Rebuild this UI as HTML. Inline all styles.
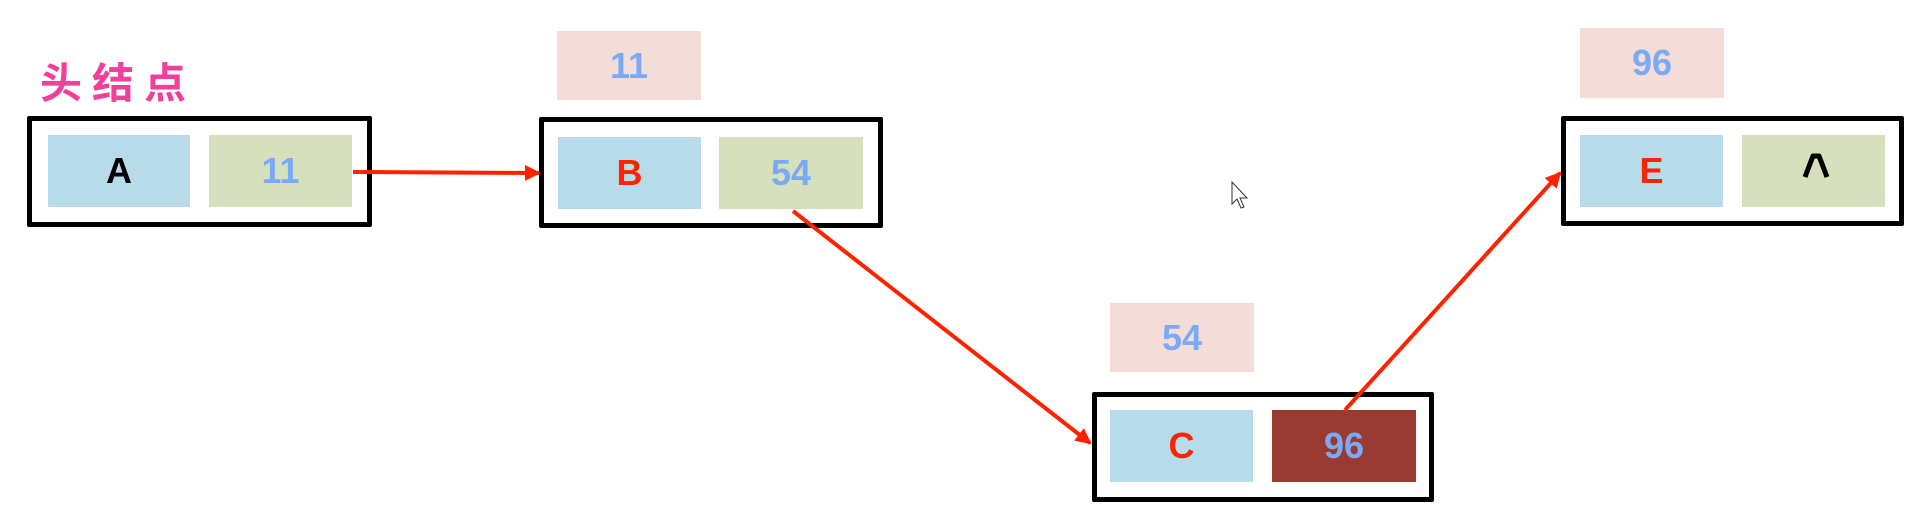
<!DOCTYPE html>
<html><head><meta charset="utf-8"><style>
html,body{margin:0;padding:0;background:#fff;width:1924px;height:517px;overflow:hidden;position:relative}
.box{position:absolute;border:5px solid #000;border-radius:2px;box-sizing:border-box;background:#fff}
.c{position:absolute;display:flex;align-items:center;justify-content:center;font-family:"Liberation Sans",sans-serif;font-weight:bold;font-size:36px}
.bl{background:#b7dbe8}.gr{background:#d6e0bd}.pk{background:#f4dcd8}.br{background:#9a3b33}
.blue{color:#7aaaf5}.red{color:#ff2200}.blk{color:#000}
</style></head><body>
<div style="position:absolute;left:40px;top:56px;font-family:'Noto Sans CJK SC',sans-serif;font-weight:bold;font-size:42px;color:#f0409a;letter-spacing:10px;line-height:50px">头结点</div>

<div class="box" style="left:27px;top:116px;width:345px;height:111px"></div>
<div class="c bl blk" style="left:48px;top:135px;width:142px;height:72px">A</div>
<div class="c gr blue" style="left:209px;top:135px;width:143px;height:72px">11</div>

<div class="c pk blue" style="left:557px;top:31px;width:144px;height:69px">11</div>
<div class="box" style="left:539px;top:117px;width:344px;height:111px"></div>
<div class="c bl red" style="left:558px;top:137px;width:143px;height:72px">B</div>
<div class="c gr blue" style="left:719px;top:137px;width:144px;height:72px">54</div>

<div class="c pk blue" style="left:1110px;top:303px;width:144px;height:69px">54</div>
<div class="box" style="left:1092px;top:392px;width:342px;height:110px"></div>
<div class="c bl red" style="left:1110px;top:410px;width:143px;height:72px">C</div>
<div class="c br blue" style="left:1272px;top:410px;width:144px;height:72px">96</div>

<div class="c pk blue" style="left:1580px;top:28px;width:144px;height:70px">96</div>
<div class="box" style="left:1561px;top:116px;width:343px;height:110px"></div>
<div class="c bl red" style="left:1580px;top:135px;width:143px;height:72px">E</div>
<div class="gr" style="position:absolute;left:1742px;top:135px;width:143px;height:72px"></div>

<svg width="1924" height="517" style="position:absolute;left:0;top:0">
<defs><marker id="a" markerWidth="4" markerHeight="4" refX="3.5" refY="2" orient="auto" markerUnits="strokeWidth"><path d="M0,0 L4,2 L0,4 z" fill="#ff2200"/></marker></defs>
<g stroke="#ff2200" stroke-width="4" fill="none" marker-end="url(#a)">
<line x1="353" y1="172" x2="539" y2="173"/>
<line x1="793" y1="211" x2="1090" y2="443"/>
<line x1="1345" y1="410" x2="1560" y2="173"/>
</g>
<path d="M1805,177 L1813,156 L1819,156 L1827,177" fill="none" stroke="#000" stroke-width="5" stroke-linejoin="round"/>
<path d="M1232,182 l0,22 l5,-5 l4,9 l3,-1 l-4,-9 l7,0 z" fill="#fff" stroke="#333" stroke-width="1"/>
</svg>
</body></html>
